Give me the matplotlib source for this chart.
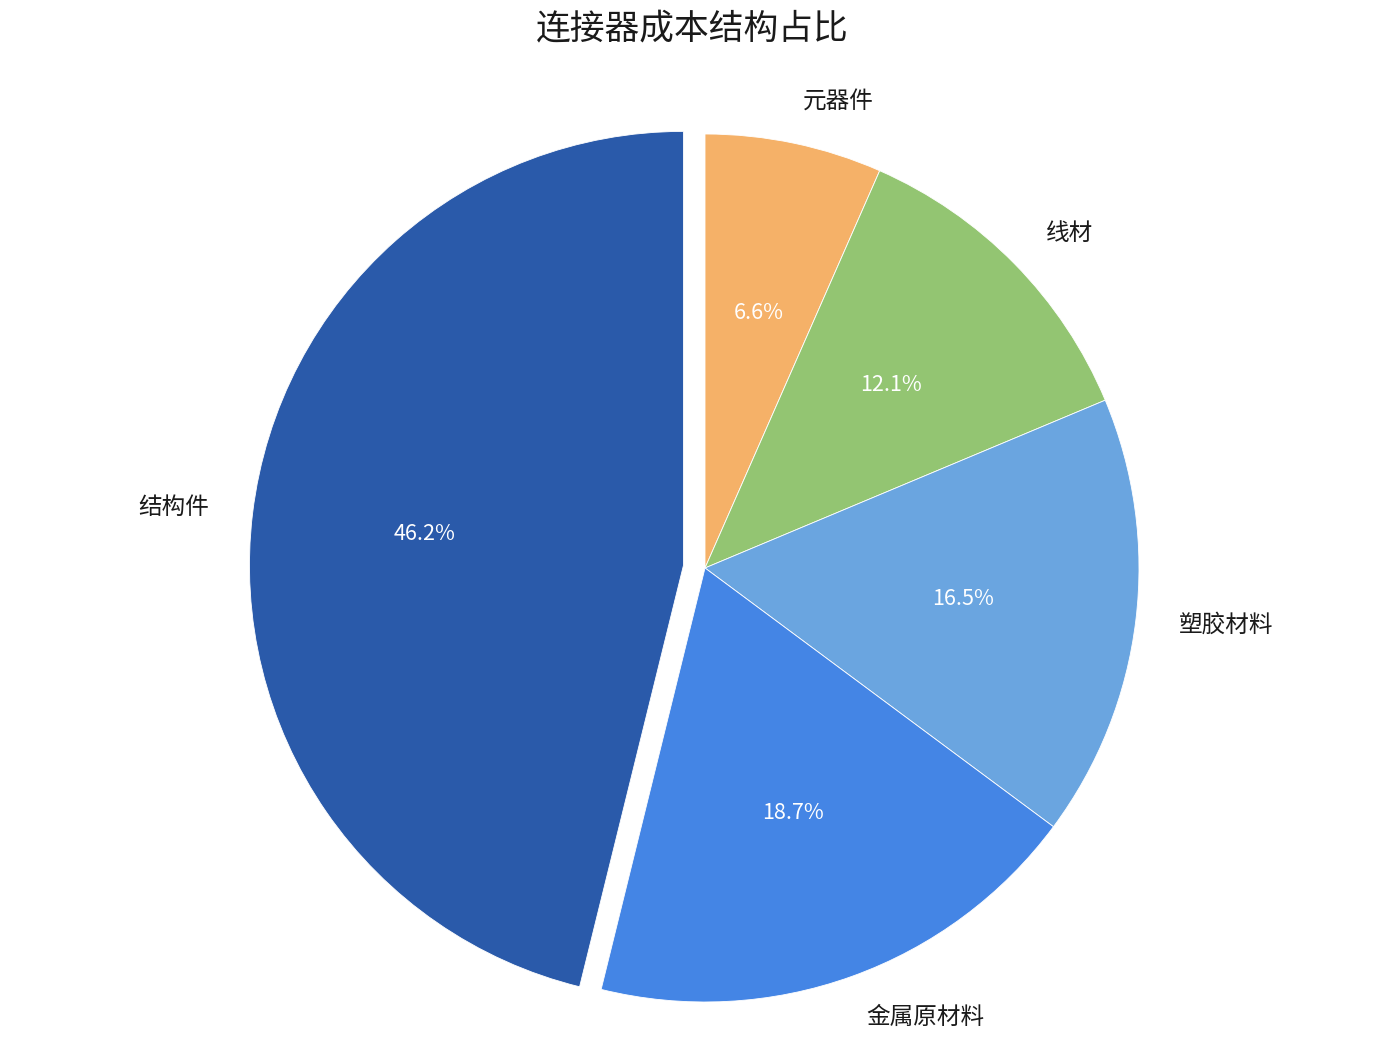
import matplotlib.pyplot as plt

plt.rcParams['font.family'] = ['Noto Sans CJK SC', 'DejaVu Sans']

labels = ["元器件", "线材", "塑胶材料", "金属原材料", "结构件"]
values = [6.6, 12.1, 16.5, 18.7, 46.2]
colors = ["#F5B168", "#93C572", "#6AA5E0", "#4485E5", "#2A5AAA"]
explode = [0, 0, 0, 0, 0.05]

fig = plt.figure(figsize=(13.96, 10.62), dpi=100)
ax = fig.add_axes([0, 0, 1, 1])

wedges, texts, autotexts = ax.pie(
    values,
    labels=labels,
    colors=colors,
    explode=explode,
    startangle=90,
    counterclock=False,
    autopct="%.1f%%",
    pctdistance=0.6,
    labeldistance=1.1,
    wedgeprops=dict(edgecolor="white", linewidth=0.6),
    textprops=dict(fontsize=17, color="#1a1a1a"),
)
for t in autotexts:
    t.set_color("white")
    t.set_fontsize(15.5)

# radius 1 -> ~434 px, centre at (705, 568) from top-left
r = 434
ax.set_xlim(-705 / r, (1396 - 705) / r)
ax.set_ylim(-(1062 - 568) / r, 568 / r)
ax.set_aspect("equal")
ax.axis("off")

fig.text(0.496, 0.972, "连接器成本结构占比", ha="center", va="center",
         fontsize=25, color="#1a1a1a")

fig.savefig("out.png", dpi=100, facecolor="white")
